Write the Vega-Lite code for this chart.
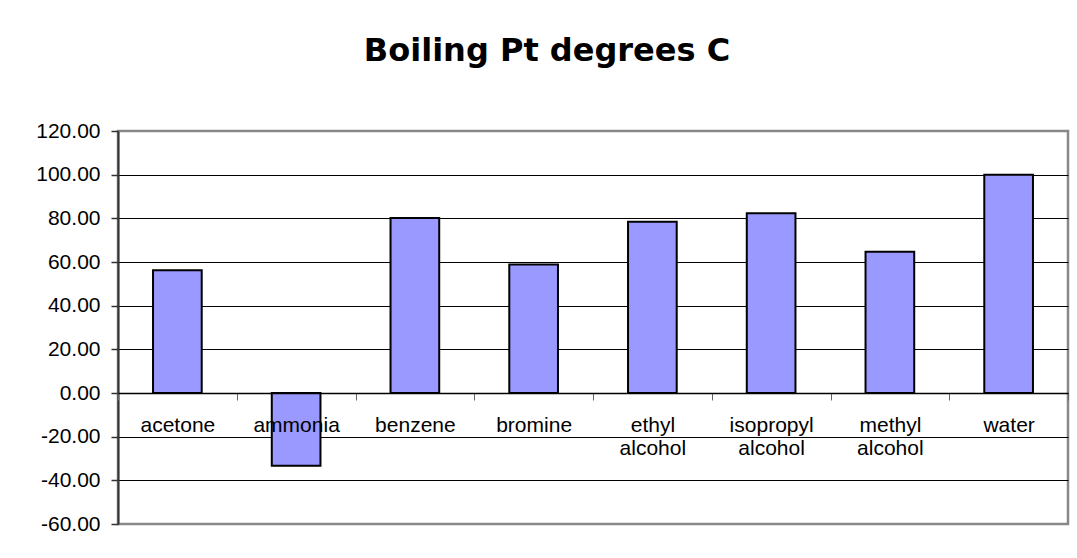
{
  "$schema": "https://vega.github.io/schema/vega-lite/v6.json",
  "width": 950,
  "height": 393,
  "autosize": {"type": "none"},
  "padding": {"left": 118, "top": 131, "right": 9, "bottom": 34},
  "background": "white",
  "title": {
    "text": "Boiling Pt degrees C",
    "font": "DejaVu Sans",
    "fontSize": 32,
    "fontWeight": "bold",
    "color": "black",
    "anchor": "middle",
    "baseline": "alphabetic",
    "offset": 27,
    "dx": -46
  },
  "data": {
    "values": [
      {"substance": "acetone", "bp": 56.2},
      {"substance": "ammonia", "bp": -33.3},
      {"substance": "benzene", "bp": 80.1},
      {"substance": "bromine", "bp": 58.8},
      {"substance": "ethyl alcohol", "bp": 78.4},
      {"substance": "isopropyl alcohol", "bp": 82.3},
      {"substance": "methyl alcohol", "bp": 64.7},
      {"substance": "water", "bp": 100.0}
    ]
  },
  "mark": {
    "type": "bar",
    "fill": "#9999FF",
    "stroke": "black",
    "strokeWidth": 2,
    "width": {"band": 0.41}
  },
  "encoding": {
    "x": {
      "field": "substance",
      "type": "nominal",
      "sort": null,
      "scale": {"paddingInner": 0, "paddingOuter": 0},
      "axis": {
        "title": null,
        "offset": -131,
        "labelAngle": 0,
        "labelExpr": "split(datum.label, ' ')",
        "labelFont": "Liberation Sans",
        "labelFontSize": 21,
        "labelColor": "black",
        "labelLineHeight": 23,
        "labelPadding": 14,
        "labelBaseline": "top",
        "tickBand": "extent",
        "tickSize": 7,
        "tickColor": "#666666",
        "tickWidth": 1,
        "domainColor": "black",
        "domainWidth": 1.5,
        "grid": false,
        "zindex": 1
      }
    },
    "y": {
      "field": "bp",
      "type": "quantitative",
      "scale": {"domain": [-60, 120], "nice": false, "zero": false},
      "axis": {
        "title": null,
        "values": [-60, -40, -20, 0, 20, 40, 60, 80, 100, 120],
        "labelExpr": "(datum.value < 0 ? '-' : '') + format(abs(datum.value), '.2f')",
        "labelFont": "Liberation Sans",
        "labelFontSize": 21,
        "labelColor": "black",
        "labelPadding": 11,
        "tickSize": 7,
        "tickColor": "#333333",
        "tickWidth": 1.5,
        "domainColor": "#333333",
        "domainWidth": 2,
        "grid": true,
        "gridColor": {"condition": {"test": "datum.value == 120 || datum.value == -60", "value": "#888888"}, "value": "black"},
        "gridWidth": 1,
        "gridOpacity": 1,
        "zindex": 0
      }
    }
  },
  "config": {
    "view": {"stroke": "#888888", "strokeWidth": 2.5}
  }
}
